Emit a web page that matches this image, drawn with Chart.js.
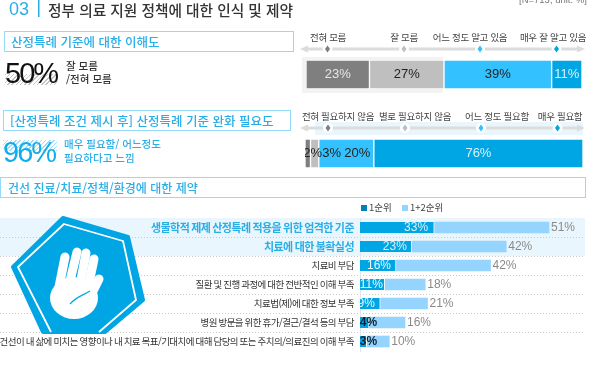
<!DOCTYPE html>
<html lang="ko">
<head>
<meta charset="utf-8">
<title>정부 의료 지원 정책에 대한 인식 및 제약</title>
<script src="https://cdn.jsdelivr.net/npm/chart.js@4"></script>
<style>
    html, body { margin: 0; padding: 0; background: #fff; }
    #page { position: relative; width: 600px; height: 391px; overflow: hidden; font-family: "Noto Sans CJK KR", sans-serif; }
    #page canvas, #page svg { position: absolute; }
    .txt { position: absolute; white-space: nowrap; line-height: 1; transform: translateY(-50%); }
    .mid { transform: translate(-50%, -50%); }
    .box { position: absolute; box-sizing: border-box; border: 1.5px solid #93dbf7; }
    .panel { position: absolute; }
    .hatch { position: absolute; background: repeating-linear-gradient(135deg, #c4c4c4 0 1px, #fff 1px 3px); }
    .num { font-family: "Liberation Sans", sans-serif; }
</style>
</head>
<body>
<div id="page">
    <div class="panel" style="left:302px;top:57px;width:141px;height:36px;background:#f3f3f3"></div>
    <div class="panel" style="left:315px;top:122px;width:268px;height:13px;background:#eaf6fd"></div>
    <div class="box" style="left:4px;top:31px;width:290px;height:21px"></div>
    <div class="box" style="left:3px;top:110px;width:288px;height:21px"></div>
    <div class="box" style="left:0;top:177px;width:586px;height:21px"></div>
    <div class="hatch" style="left:5px;top:74px;width:53px;height:11px"></div>
    <div class="hatch" style="left:3px;top:140px;width:54px;height:11px;background:repeating-linear-gradient(135deg,#9fdcf6 0 1px,#fff 1px 3px)"></div>
    <canvas id="chartConocimiento" width="276" height="29" style="left:305.5px;top:60px"></canvas>
    <canvas id="chartNecesidad" width="278" height="29" style="left:305px;top:139px"></canvas>
    <canvas id="chartBarreras" width="600" height="191" style="left:0;top:200px"></canvas>
    <svg width="600" height="391" style="left:0;top:0">
        <g id="escalas"></g>
        <rect x="38" y="0" width="1.5" height="17" fill="#29aee8"/>
        <rect x="361" y="205" width="6" height="6" fill="#0082b4"/>
        <rect x="402" y="205" width="6" height="6" fill="#94d4ff"/>
        <polygon points="63,218 128,237 143,300 105,332 43,332 13,267" fill="#00a5e3" stroke="#00a5e3" stroke-width="4" stroke-linejoin="round"/>
        <polyline points="51,332 18,267 64,224 123,241 136,300 99,332" fill="none" stroke="#fff" stroke-width="1.8" stroke-linejoin="round"/>
        <g stroke="#fff" stroke-width="9" stroke-linecap="round" fill="none">
            <line x1="58" y1="292" x2="65" y2="257"/>
            <line x1="69" y1="285" x2="77" y2="252"/>
            <line x1="80" y1="285" x2="86" y2="253"/>
            <line x1="88" y1="288" x2="94" y2="259"/>
            <line x1="90" y1="297" x2="99" y2="279"/>
        </g>
        <ellipse cx="74" cy="298" rx="24" ry="21" fill="#fff"/>
        <path d="M70 304 C77 296 84 295 90 291" fill="none" stroke="#00a5e3" stroke-width="1.2"/>
    </svg>
</div>
<script>
// Datos del grafico
const categoriasConocimiento = ['전혀 모름', '잘 모름', '어느 정도 알고 있음', '매우 잘 알고 있음'];
const valoresConocimiento = [23, 27, 39, 11];
const categoriasNecesidad = ['전혀 필요하지 않음', '별로 필요하지 않음', '어느 정도 필요함', '매우 필요함'];
const valoresNecesidad = [2, 3, 20, 76];
const categoriasBarreras = [
    '생물학적 제제 산정특례 적용을 위한 엄격한 기준',
    '치료에 대한 불확실성',
    '치료비 부담',
    '질환 및 진행 과정에 대한 전반적인 이해 부족',
    '치료법(제)에 대한 정보 부족',
    '병원 방문을 위한 휴가/결근/결석 등의 부담',
    '건선이 내 삶에 미치는 영향이나 내 치료 목표/기대치에 대해 담당의 또는 주치의/의료진의 이해 부족'
];
const valoresPrimero = [33, 23, 16, 11, 9, 4, 3];
const valoresSegundo = [51, 42, 42, 18, 21, 16, 10];

const FUENTE_NUM = '"Liberation Sans", sans-serif';
const FUENTE_KR = '"Noto Sans CJK KR", sans-serif';
const page = document.getElementById('page');

function addText(text, x, y, size, color, extra) {
    const el = document.createElement('div');
    el.className = 'txt' + (extra && extra.mid ? ' mid' : '') + (extra && extra.num ? ' num' : '');
    el.textContent = text;
    el.style.left = x + 'px';
    el.style.top = y + 'px';
    el.style.fontSize = size + 'px';
    el.style.color = color;
    if (extra && extra.weight) el.style.fontWeight = extra.weight;
    if (extra && extra.spacing) el.style.letterSpacing = extra.spacing + 'px';
    page.appendChild(el);
}

addText('03', 9, 9, 18, '#29aee8', { num: true });
addText('정부 의료 지원 정책에 대한 인식 및 제약', 48, 9.5, 14.7, '#333', { weight: 500 });
addText('[N=713, unit: %]', 519, 0, 9.5, '#777', { num: true });
addText('산정특례 기준에 대한 이해도', 11, 41.5, 12.5, '#29aee8', { weight: 500 });
addText('[산정특례 조건 제시 후] 산정특례 기준 완화 필요도', 10, 120.5, 12.5, '#29aee8', { weight: 500 });
addText('건선 진료/치료/정책/환경에 대한 제약', 8, 188, 12, '#29aee8', { weight: 500 });
addText('50%', 5, 73, 29, '#111', { num: true, spacing: -2 });
addText('잘 모름', 66, 66, 10.5, '#333', { weight: 500 });
addText('/전혀 모름', 66, 79, 10.5, '#333', { weight: 500 });
addText('96%', 3, 152, 29, '#14ace8', { num: true, spacing: -2 });
addText('매우 필요함/ 어느정도', 64, 144, 10.5, '#29aee8', { weight: 500 });
addText('필요하다고 느낌', 64, 158, 10.5, '#29aee8', { weight: 500 });
addText('1순위', 369, 208, 9.5, '#444');
addText('1+2순위', 410, 208, 9.5, '#444');

// Escalas con flecha sobre cada barra
function dibujarEscala(y, puntos, etiquetas, posEtiquetas) {
    const g = document.getElementById('escalas');
    const colores = ['#7f7f7f', '#bfbfbf', '#33c2ff', '#00a6e4'];
    let html = `<line x1="304" y1="${y}" x2="581" y2="${y}" stroke="#dcdcdc" stroke-width="3"/>` +
        `<polygon points="300,${y} 308,${y - 3.5} 308,${y + 3.5}" fill="#dcdcdc"/>` +
        `<polygon points="585,${y} 577,${y - 3.5} 577,${y + 3.5}" fill="#dcdcdc"/>`;
    puntos.forEach((px, i) => {
        html += `<circle cx="${px}" cy="${y}" r="5" fill="#fff"/>` +
            `<polygon points="${px},${y - 3.5} ${px + 2.5},${y} ${px},${y + 3.5} ${px - 2.5},${y}" fill="${colores[i]}"/>`;
        addText(etiquetas[i], posEtiquetas[i], y - 11.5, 9.5, '#444', { mid: true, spacing: -0.3 });
    });
    g.innerHTML += html;
}
dibujarEscala(49, [327.5, 404, 480, 556.5], categoriasConocimiento, [328, 404, 470, 553]);
dibujarEscala(128, [328, 405, 481, 557.5], categoriasNecesidad, [338, 415, 497, 560]);

// Etiquetas de valor sobre cada segmento
const etiquetasPlugin = {
    id: 'etiquetas',
    afterDatasetsDraw(chart, args, opts) {
        const ctx = chart.ctx;
        ctx.save();
        ctx.letterSpacing = '0px';
        ctx.textBaseline = 'middle';
        chart.data.datasets.forEach((ds, d) => {
            const cfg = opts.series[d];
            chart.getDatasetMeta(d).data.forEach((bar, i) => {
                const shift = cfg.shift ? cfg.shift[i] : 0;
                const color = Array.isArray(cfg.color) ? cfg.color[i] : cfg.color;
                ctx.font = (cfg.bold && cfg.bold[i] ? 'bold ' : '') + cfg.size + 'px ' + FUENTE_NUM;
                ctx.fillStyle = color;
                if (cfg.outside) {
                    ctx.textAlign = 'left';
                    ctx.fillText(ds.data[i] + '%', bar.x + 2, bar.y);
                } else {
                    ctx.textAlign = 'center';
                    const base = (bar.base + bar.x) / 2;
                    ctx.fillText(ds.data[i] + '%', base + shift, bar.y);
                }
            });
        });
        ctx.restore();
    }
};

function crearBarra(id, labels, valores, maximo, colores, colorTexto, desplaza) {
    new Chart(document.getElementById(id), {
        type: 'bar',
        data: {
            labels: ['total'],
            datasets: valores.map((v, i) => ({
                label: labels[i],
                data: [v],
                backgroundColor: colores[i],
                borderColor: 'rgba(255,255,255,0.75)',
                borderWidth: 1,
                borderSkipped: false,
                barPercentage: 1,
                categoryPercentage: 1
            }))
        },
        options: {
            indexAxis: 'y',
            responsive: false,
            animation: false,
            layout: { padding: 0 },
            scales: {
                x: { stacked: true, min: 0, max: maximo, display: false },
                y: { stacked: true, display: false }
            },
            plugins: {
                legend: { display: false },
                tooltip: { enabled: false },
                etiquetas: {
                    series: valores.map((v, i) => ({ size: 13, color: colorTexto[i], shift: [desplaza[i]] }))
                }
            }
        },
        plugins: [etiquetasPlugin]
    });
}

const coloresEscala = ['#7f7f7f', '#bfbfbf', '#33c2ff', '#00a6e4'];
crearBarra('chartConocimiento', categoriasConocimiento, valoresConocimiento, 100, coloresEscala,
    ['#e6e6e6', '#222', '#222', '#d8f2fd'], [0, 0, 0, 0]);
crearBarra('chartNecesidad', categoriasNecesidad, valoresNecesidad, 101, coloresEscala,
    ['#222', '#222', '#222', '#d8f2fd'], [5, 17, 11, 0]);

// Banda, lineas punteadas y barras apiladas de la parte inferior
const fondoBarreras = {
    id: 'fondoBarreras',
    beforeDraw(chart) {
        const { ctx, scales: { y } } = chart;
        const alto = y.getPixelForValue(1) - y.getPixelForValue(0);
        ctx.letterSpacing = '-0.55px';
        ctx.save();
        ctx.fillStyle = '#e9f6fd';
        ctx.fillRect(0, y.top, 585, alto * 2);
        ctx.strokeStyle = '#c9c9c9';
        ctx.setLineDash([1, 2]);
        for (let i = 1; i < categoriasBarreras.length; i++) {
            const py = Math.round(y.top + alto * i) + 0.5;
            ctx.beginPath();
            ctx.moveTo(0, py);
            ctx.lineTo(585, py);
            ctx.stroke();
        }
        ctx.restore();
    }
};

new Chart(document.getElementById('chartBarreras'), {
    type: 'bar',
    data: {
        labels: categoriasBarreras,
        datasets: [
            { label: '1순위', data: valoresPrimero, backgroundColor: '#00a5e3', borderColor: '#fff', borderWidth: { right: 1 }, borderSkipped: false, barThickness: 11 },
            { label: '1+2순위', data: valoresSegundo, backgroundColor: '#94d4ff', barThickness: 11 }
        ]
    },
    options: {
        indexAxis: 'y',
        responsive: false,
        animation: false,
        layout: { padding: { top: 18, bottom: 40, right: 15 } },
        scales: {
            x: { stacked: true, min: 0, max: 100, display: false },
            y: {
                stacked: true,
                afterFit(axis) { axis.width = 360; },
                grid: { display: false, drawTicks: false },
                border: { color: '#dfe6ea', width: 1 },
                ticks: {
                    padding: 6,
                    autoSkip: false,
                    color: ctx => ctx.index < 2 ? '#29aee8' : '#333',
                    font: ctx => ({
                        family: FUENTE_KR,
                        size: ctx.index < 2 ? 11 : 9.5,
                        weight: ctx.index < 2 ? 'bold' : 'normal'
                    })
                }
            }
        },
        plugins: {
            legend: { display: false },
            tooltip: { enabled: false },
            etiquetas: {
                series: [
                    {
                        size: 12,
                        color: ['#d8f2fd', '#d8f2fd', '#e8f8ff', '#e8f8ff', '#e8f8ff', '#123', '#123'],
                        bold: [false, false, false, false, false, true, true],
                        shift: [19, 9, 1, -1, -4, 4, 5]
                    },
                    { size: 12, color: '#8a8a8a', outside: true }
                ]
            }
        }
    },
    plugins: [fondoBarreras, etiquetasPlugin]
});
</script>
</body>
</html>
